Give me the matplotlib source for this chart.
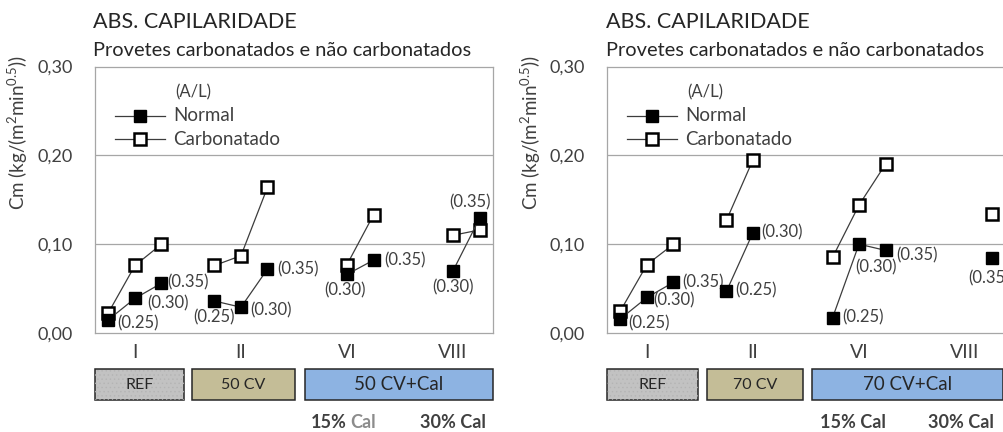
import numpy as np
import matplotlib.pyplot as plt
from matplotlib.patches import Rectangle
from matplotlib.lines import Line2D
import matplotlib.transforms as mtransforms

plt.rcParams['font.family'] = ['Lato', 'DejaVu Sans']
plt.rcParams['mathtext.fontset'] = 'custom'
plt.rcParams['mathtext.rm'] = 'Lato'
plt.rcParams['mathtext.it'] = 'Lato'
plt.rcParams['hatch.linewidth'] = 0.5

# data
groups = ['I', 'II', 'VI', 'VIII']
al_ratio = [0.25, 0.30, 0.35]
nan = np.nan

normal_50 = [[0.015, 0.039, 0.056],
             [0.036, 0.029, 0.072],
             [nan, 0.066, 0.082],
             [nan, 0.070, 0.129]]
carb_50 = [[0.023, 0.076, 0.100],
           [0.076, 0.087, 0.164],
           [nan, 0.077, 0.133],
           [nan, 0.110, 0.116]]

normal_70 = [[0.016, 0.040, 0.057],
             [0.047, 0.113, nan],
             [0.017, 0.100, 0.093],
             [nan, nan, 0.084]]
carb_70 = [[0.025, 0.077, 0.100],
           [0.127, 0.195, nan],
           [0.085, 0.144, 0.190],
           [nan, nan, 0.134]]

boxes_50 = ['REF', '50 CV', '50 CV+Cal']
boxes_70 = ['REF', '70 CV', '70 CV+Cal']

# label offsets in pixels (dx, dy up) for each normal point
offs_50 = [[(30, -4), (33, -5), (27, 1)],
           [(0, -16), (30, -3), (31, 0)],
           [None, (-2, -16), (31, 0)],
           [None, (0, -17), (-10, 16)]]
offs_70 = [[(29, -5), (27, -3), (30, 0)],
           [(30, 1), (29, 0), None],
           [(30, 1), (17, -23), (31, -5)],
           [None, None, (-3, -20)]]

W, H = 1004, 432
fig = plt.figure(figsize=(W / 100, H / 100), dpi=100)

LINE = '#3c3c3c'
GRID = '#a6a6a6'
TXT = '#404040'


def px(x, y):
    return x / W, 1 - y / H


def panel(x0, normal, carb, offs, boxes, box_x):
    ax = fig.add_axes([x0 / W, 1 - 333 / H, 398 / W, 266.5 / H])
    ax.set_xlim(-0.377, 3.377)
    ax.set_ylim(0, 0.30)
    for s in ax.spines.values():
        s.set_color(GRID)
        s.set_linewidth(0.9)
    ax.set_yticks([0, 0.1, 0.2, 0.3])
    ax.set_yticklabels(['0,00', '0,10', '0,20', '0,30'], fontsize=13, color=TXT)
    ax.set_xticks(range(len(groups)))
    ax.set_xticklabels(groups, fontsize=14, color=TXT)
    ax.tick_params(axis='y', length=0, pad=16)
    ax.tick_params(axis='x', length=0, pad=8)
    for yv in [0.1, 0.2]:
        ax.axhline(yv, color=GRID, lw=0.9, zorder=0)

    for g in range(len(groups)):
        xs = g + (np.array(al_ratio) - 0.30) * 5
        ax.plot(xs, carb[g], color=LINE, lw=0.9, marker='s', ms=8.5,
                mfc='white', mec='black', mew=1.8, zorder=3, clip_on=False)
        ax.plot(xs, normal[g], color=LINE, lw=0.9, marker='s', ms=8.5,
                mfc='black', mec='black', zorder=4, clip_on=False)
        for k in range(len(al_ratio)):
            if offs[g][k] is None or np.isnan(normal[g][k]):
                continue
            ax.annotate('(%.2f)' % al_ratio[k], (xs[k], normal[g][k]),
                        xytext=offs[g][k], textcoords='offset pixels',
                        ha='center', va='center', fontsize=12, color=TXT,
                        annotation_clip=False)

    # legend
    ax.text(0.201, 0.903, '(A/L)', transform=ax.transAxes, fontsize=12,
            color=TXT, va='center')
    for yy, fc, lbl in [(0.816, 'black', 'Normal'), (0.727, 'white', 'Carbonatado')]:
        ax.add_line(Line2D([0.050, 0.176], [yy, yy], transform=ax.transAxes,
                           color=LINE, lw=0.9))
        ax.add_line(Line2D([0.113], [yy], transform=ax.transAxes, marker='s',
                           ms=8.5, mfc=fc, mec='black', mew=1.8 if fc == 'white' else 1))
        ax.text(0.196, yy, lbl, transform=ax.transAxes, fontsize=13.5,
                color=TXT, va='center')

    # category boxes
    tr = mtransforms.blended_transform_factory(ax.transData, ax.transAxes)
    fills = ['#c2c2c2', '#c4bd97', '#8db3e2']
    sizes = [11.5, 11.5, 13.5]
    for (a, b), lbl, fc, fs in zip(box_x, boxes, fills, sizes):
        ax.add_patch(Rectangle((a, -0.253), b - a, 0.117, transform=tr,
                               facecolor=fc, edgecolor='#262626', lw=1.1,
                               clip_on=False))
        if lbl == 'REF':
            ax.add_patch(Rectangle((a, -0.253), b - a, 0.117, transform=tr,
                                   facecolor='none', edgecolor='#b4b4b4', lw=0,
                                   hatch='....', clip_on=False))
        ax.text((a + b) / 2, -0.195, lbl, transform=tr, ha='center',
                va='center', fontsize=fs, color='#262626')
    return ax


ax1 = panel(95, normal_50, carb_50, offs_50, boxes_50,
            [(-0.377, 0.462), (0.538, 1.509), (1.604, 3.377)])
ax2 = panel(607, normal_70, carb_70, offs_70, boxes_70,
            [(-0.377, 0.481), (0.566, 1.472), (1.557, 3.358)])

for x0 in [93, 606]:
    fig.text(*px(x0, 22), 'ABS. CAPILARIDADE', fontsize=15.5, color='#262626',
             va='center')
    fig.text(*px(x0, 50), 'Provetes carbonatados e não carbonatados',
             fontsize=14.4, color='#262626', va='center')

for xl in [18, 531]:
    fig.text(*px(xl, 133), r'Cm (kg/(m$^2$min$^{0.5}$))', rotation=90,
             fontsize=13.5, color=TXT, ha='center', va='center')

# bottom notes
fig.text(*px(311, 422), '15%', fontsize=13, fontweight='bold', color=TXT, va='center')
fig.text(*px(350, 422), 'Cal', fontsize=13, fontweight='bold', color='#8c8c8c', va='center')
fig.text(*px(420, 422), '30% Cal', fontsize=13, fontweight='bold', color=TXT, va='center')
fig.text(*px(820, 422), '15% Cal', fontsize=13, fontweight='bold', color=TXT, va='center')
fig.text(*px(928, 422), '30% Cal', fontsize=13, fontweight='bold', color=TXT, va='center')

fig.savefig('out.png', dpi=100)
